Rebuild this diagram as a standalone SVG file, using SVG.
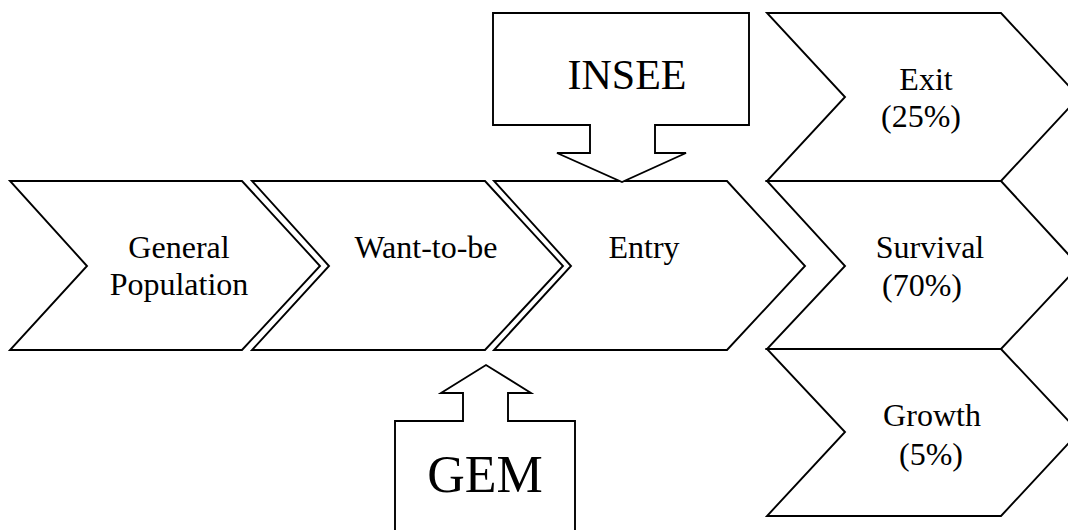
<svg xmlns="http://www.w3.org/2000/svg" width="1068" height="530" viewBox="0 0 1068 530">
<style>
.s{fill:#fff;stroke:#000;stroke-width:1.9;stroke-linejoin:miter}
.t{font-family:"Liberation Serif","Times New Roman",serif;font-size:32px;fill:#000;text-anchor:middle}
</style>
<rect width="1068" height="530" fill="#fff"/>
<g id="connectors"></g>
<g id="general"><path class="s" d="M10,181 H242 L320,266 L242,350 H10 L87,266 Z"/><text class="t" x="179" y="258">General</text><text class="t" x="179" y="295">Population</text></g>
<g id="wanttobe"><path class="s" d="M252,181 H485 L563,266 L485,350 H252 L329,266 Z"/><text class="t" x="426" y="258">Want-to-be</text></g>
<g id="entry"><path class="s" d="M494,181 H727 L805,266 L727,350 H494 L571,266 Z"/><text class="t" x="644" y="258">Entry</text></g>
<g id="exit"><path class="s" d="M767,13 H1001 L1079,97 L1001,181 H767 L845,97 Z"/><text class="t" x="926" y="90">Exit</text><text class="t" x="921" y="127">(25%)</text></g>
<g id="survival"><path class="s" d="M767,181 H1001 L1079,266 L1001,349 H767 L845,266 Z"/><text class="t" x="930" y="258">Survival</text><text class="t" x="922" y="296">(70%)</text></g>
<g id="growth"><path class="s" d="M767,349 H1001 L1079,432 L1001,516 H767 L845,432 Z"/><text class="t" x="932" y="426">Growth</text><text class="t" x="931" y="465">(5%)</text></g>
<g id="insee"><path class="s" d="M493,13 H749 V125 H655 V153 H686 L622,182 L557,153 H590 V125 H493 Z"/><text class="t" x="627" y="89" style="font-size:42px">INSEE</text></g>
<g id="gem"><path class="s" d="M395,540 V421 H463 V393 H441 L486,365 L531,393 H508 V421 H575 V540"/><text class="t" x="485" y="492" style="font-size:52px">GEM</text></g>
</svg>
